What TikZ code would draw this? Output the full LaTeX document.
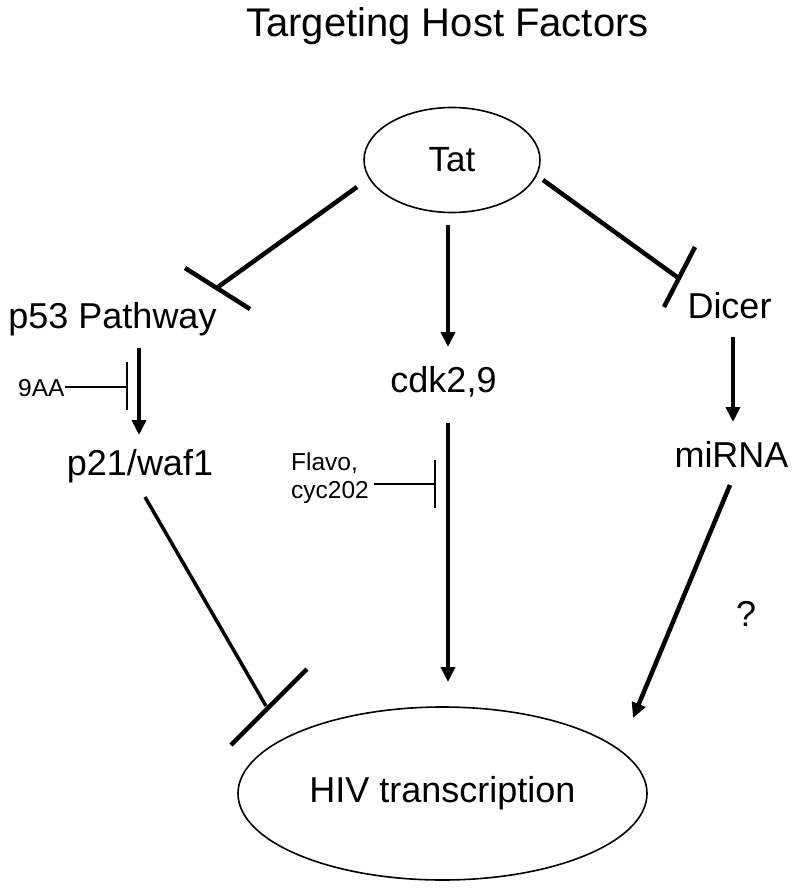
\documentclass[tikz,border=0pt]{standalone}
\usepackage{fontspec}
\setmainfont{Liberation Sans}
\usetikzlibrary{arrows.meta,shapes.geometric}
\begin{document}
\begin{tikzpicture}[x=1pt,y=-1pt,
  lbl/.style={inner sep=0pt,anchor=base,font=\fontsize{36}{40}\selectfont},
  smalllbl/.style={inner sep=0pt,anchor=base west,font=\fontsize{24.5}{28}\selectfont},
  titlelbl/.style={inner sep=0pt,anchor=base,font=\fontsize{40}{44}\selectfont},
  oval/.style={draw,ellipse,line width=1.6pt,inner sep=0pt},
  actline/.style={line width=4.5pt,-{Triangle[length=15pt,width=14pt]}},
  inhline/.style={line width=4.5pt},
  thinline/.style={line width=2.5pt}]
\useasboundingbox (0,0) rectangle (800,890);
% title
\node[titlelbl] (title) at (447.5,37) {Targeting Host Factors};
% main nodes
\node[oval,minimum width=176pt,minimum height=105pt,font=\fontsize{35}{38}\selectfont] (tat) at (452,160) {Tat};
\node[oval,minimum width=409pt,minimum height=173pt,font=\fontsize{36}{40}\selectfont] (hiv) at (442.5,793.5) {HIV transcription};
\node[lbl] (p53) at (112.5,328) {p53 Pathway};
\node[lbl] (p21) at (140,475) {p21/waf1};
\node[lbl] (cdk) at (443.5,392) {cdk2,9};
\node[lbl] (dicer) at (729.5,318) {Dicer};
\node[lbl] (mirna) at (731.5,467) {miRNA};
\node[lbl] (q) at (746,626) {?};
% small labels
\node[smalllbl] (nineaa) at (18,396) {9AA};
\node[smalllbl,align=left,anchor=north west] (flavo) at (291,453) {Flavo,\\cyc202};
% endpoints
\coordinate (tatL) at (357,187);
\coordinate (p53T) at (218,287);
\coordinate (p53B1) at (185,268);
\coordinate (p53B2) at (250,309);
\coordinate (tatR) at (543,180);
\coordinate (dicT) at (677,277);
\coordinate (dicB1) at (695,247);
\coordinate (dicB2) at (664,307);
\coordinate (tatS) at (448,225);
\coordinate (cdkN) at (448,347);
\coordinate (p53S) at (139,348);
\coordinate (p21N) at (139,435);
\coordinate (aaE) at (65,387);
\coordinate (aaT) at (127,387);
\coordinate (aaB1) at (127,362);
\coordinate (aaB2) at (127,410);
\coordinate (cdkS) at (448,423);
\coordinate (hivN) at (448,682);
\coordinate (flE) at (374,484);
\coordinate (flT) at (435,484);
\coordinate (flB1) at (435,460);
\coordinate (flB2) at (435,508);
\coordinate (dicS) at (733,337);
\coordinate (mirN) at (733,422);
\coordinate (mirS) at (730,485);
\coordinate (hivNE) at (633,718);
\coordinate (p21S) at (145,497);
\coordinate (hivT) at (266,706);
\coordinate (hivB1) at (307,669);
\coordinate (hivB2) at (231,745);
% connectors
\draw[inhline] (tatL) -- (p53T);
\draw[inhline] (p53B1) -- (p53B2);
\draw[inhline] (tatR) -- (dicT);
\draw[inhline] (dicB1) -- (dicB2);
\draw[actline] (tatS) -- (cdkN);
\draw[actline] (p53S) -- (p21N);
\draw[thinline] (aaE) -- (aaT);
\draw[thinline] (aaB1) -- (aaB2);
\draw[actline] (cdkS) -- (hivN);
\draw[thinline] (flE) -- (flT);
\draw[thinline] (flB1) -- (flB2);
\draw[actline] (dicS) -- (mirN);
\draw[actline] (mirS) -- (hivNE);
\draw[line width=3.5pt] (p21S) -- (hivT);
\draw[inhline] (hivB1) -- (hivB2);
\end{tikzpicture}
\end{document}
